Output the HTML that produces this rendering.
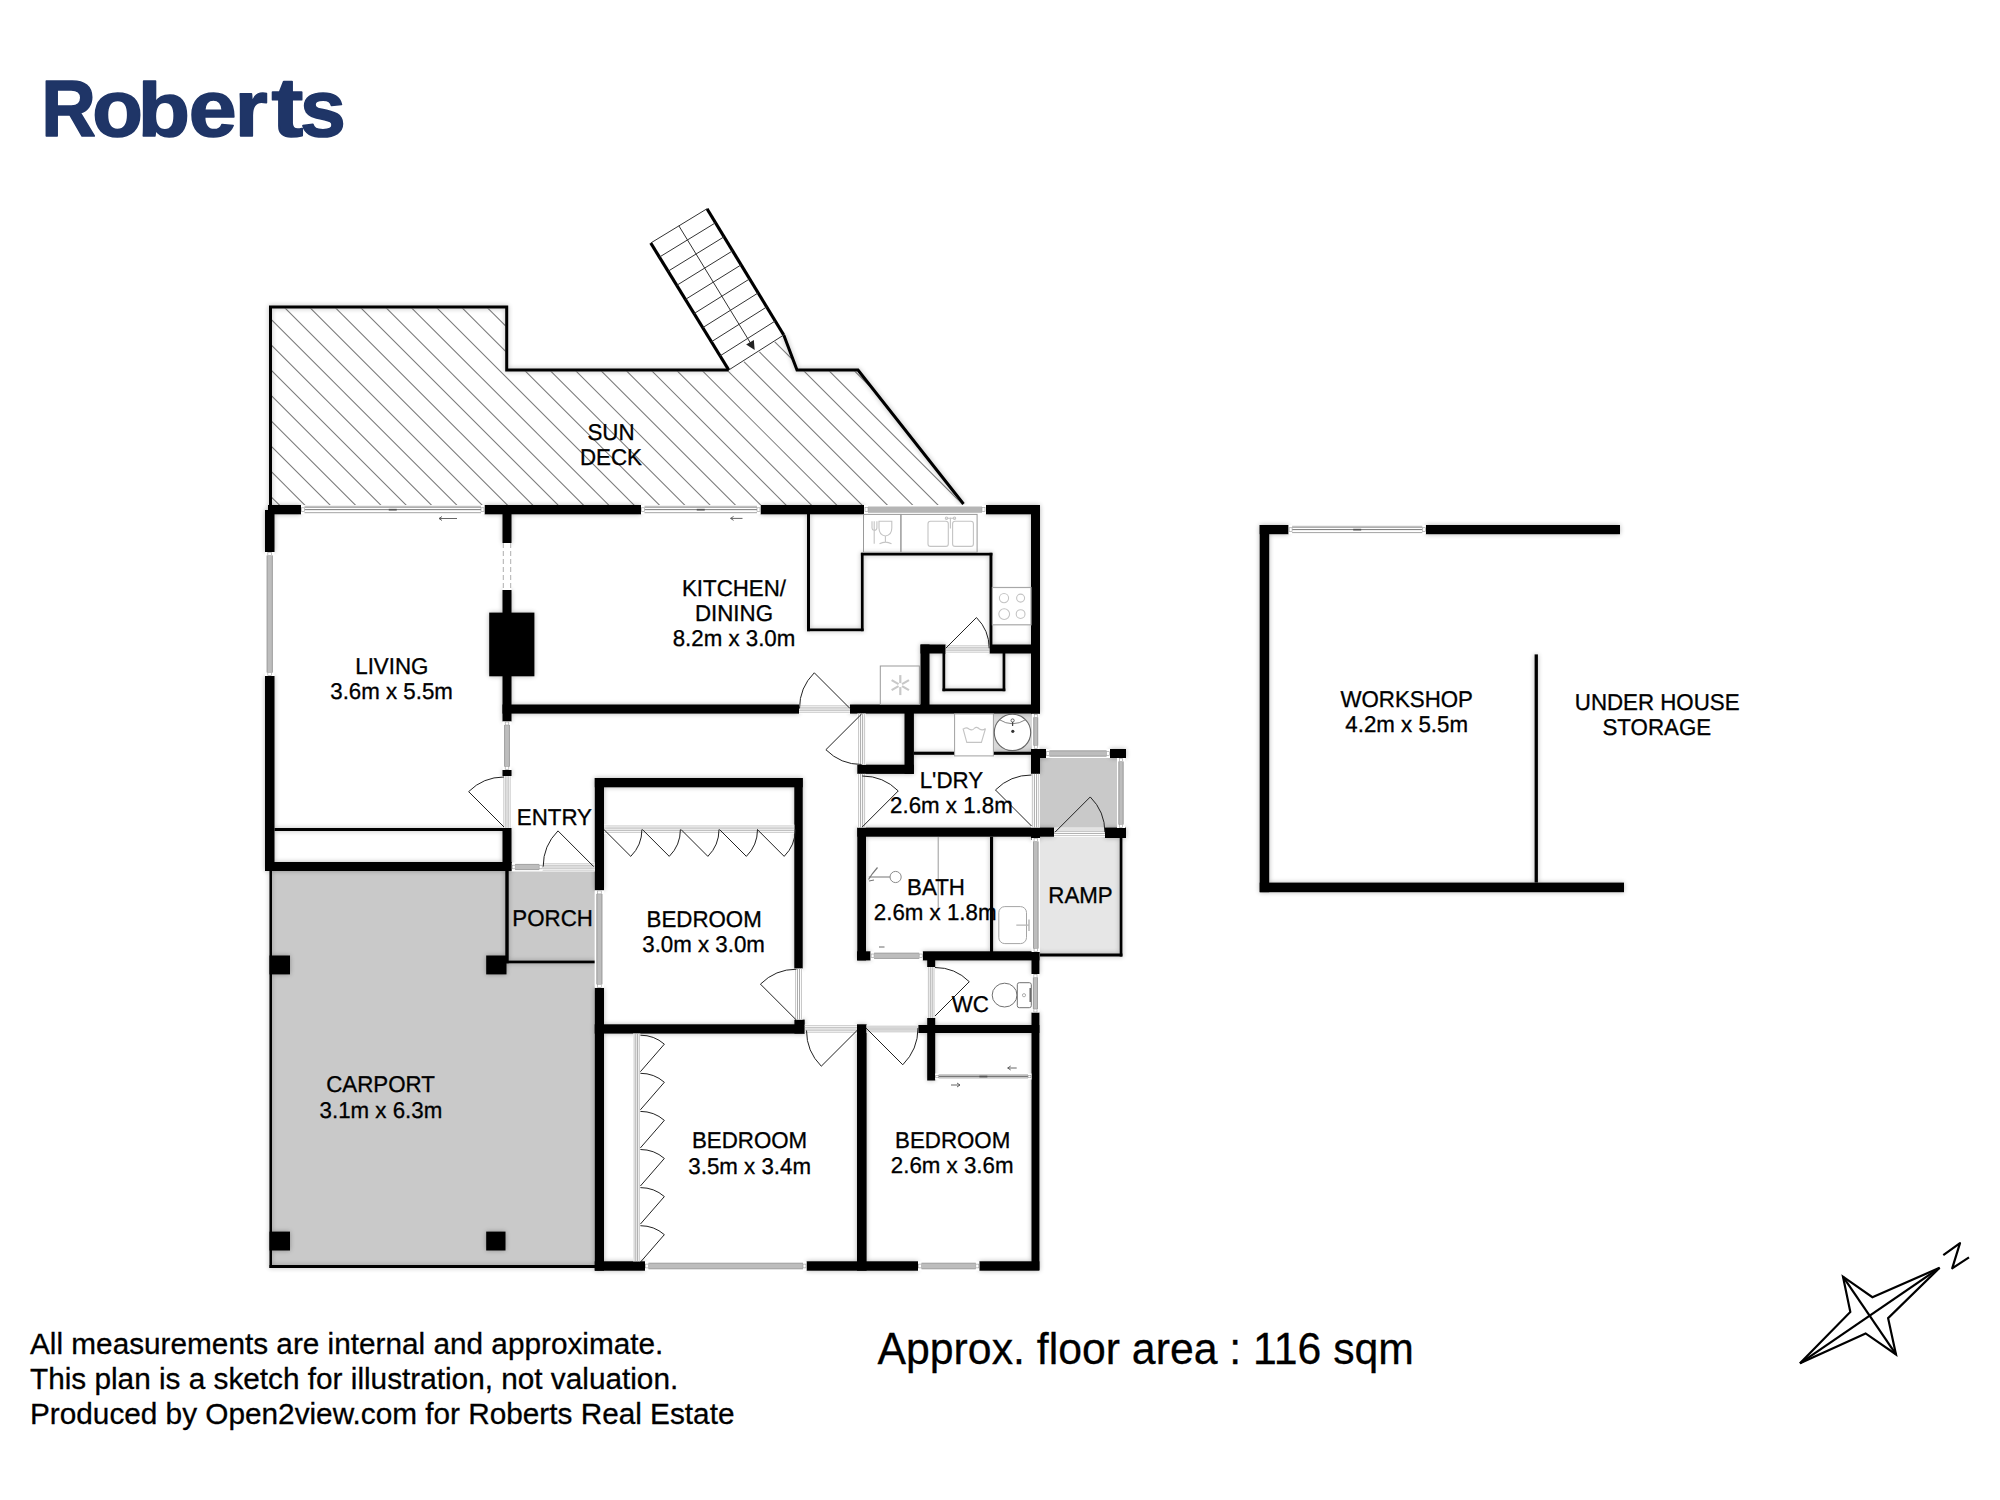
<!DOCTYPE html>
<html><head><meta charset="utf-8"><title>Floor plan</title>
<style>
html,body{margin:0;padding:0;background:#fff;}
body{width:2000px;height:1500px;overflow:hidden;position:relative;font-family:"Liberation Sans",sans-serif;}
svg{position:absolute;left:0;top:0;}
.lbl{font-family:"Liberation Sans",sans-serif;font-size:22.3px;fill:#000;stroke:#000;stroke-width:0.3px;text-anchor:middle;text-rendering:geometricPrecision;}
</style></head>
<body>
<svg width="2000" height="1500" viewBox="0 0 2000 1500">
<defs>
<clipPath id="deckclip"><polygon points="271.5,308.5 505.5,308.5 505.5,371.5 728.75,371.5 783.75,336 797,371.5 858,371.5 962,505 271.5,505"/></clipPath>
<filter id="sh" x="-5%" y="-5%" width="110%" height="110%"><feGaussianBlur in="SourceAlpha" stdDeviation="2.8"/><feComponentTransfer><feFuncA type="linear" slope="0.3"/></feComponentTransfer><feMerge><feMergeNode/><feMergeNode in="SourceGraphic"/></feMerge></filter>
</defs>

<!-- LOGO -->
<g font-family="Liberation Sans" font-weight="bold" font-size="80" fill="#1f3567" stroke="#1f3567" stroke-width="1.6" stroke-linejoin="round">
<text x="0" y="136.5" transform="translate(41.27,0) scale(0.9462,1)">R</text>
<text x="0" y="136.5" transform="translate(92.33,0) scale(1.0364,1)">o</text>
<text x="0" y="136.5" transform="translate(137.86,6.143) scale(1.0683,0.955)">b</text>
<text x="0" y="136.5" transform="translate(188.84,0) scale(1.0780,1)">e</text>
<text x="0" y="136.5" transform="translate(234.71,0) scale(1.0577,1)">r</text>
<text x="0" y="136.5" transform="translate(271.40,-6.825) scale(1.1923,1.05)">t</text>
<text x="0" y="136.5" transform="translate(299.94,0) scale(1.0300,1)">s</text>
</g>

<!-- SUN DECK hatch -->
<g clip-path="url(#deckclip)" stroke="#7a7a7a" stroke-width="1.05" id="hatch">
<line x1="260" y1="-730.20" x2="990" y2="-0.20"/>
<line x1="260" y1="-704.87" x2="990" y2="25.13"/>
<line x1="260" y1="-679.54" x2="990" y2="50.46"/>
<line x1="260" y1="-654.21" x2="990" y2="75.79"/>
<line x1="260" y1="-628.88" x2="990" y2="101.12"/>
<line x1="260" y1="-603.55" x2="990" y2="126.45"/>
<line x1="260" y1="-578.22" x2="990" y2="151.78"/>
<line x1="260" y1="-552.89" x2="990" y2="177.11"/>
<line x1="260" y1="-527.56" x2="990" y2="202.44"/>
<line x1="260" y1="-502.23" x2="990" y2="227.77"/>
<line x1="260" y1="-476.90" x2="990" y2="253.10"/>
<line x1="260" y1="-451.57" x2="990" y2="278.43"/>
<line x1="260" y1="-426.24" x2="990" y2="303.76"/>
<line x1="260" y1="-400.91" x2="990" y2="329.09"/>
<line x1="260" y1="-375.58" x2="990" y2="354.42"/>
<line x1="260" y1="-350.25" x2="990" y2="379.75"/>
<line x1="260" y1="-324.92" x2="990" y2="405.08"/>
<line x1="260" y1="-299.59" x2="990" y2="430.41"/>
<line x1="260" y1="-274.26" x2="990" y2="455.74"/>
<line x1="260" y1="-248.93" x2="990" y2="481.07"/>
<line x1="260" y1="-223.60" x2="990" y2="506.40"/>
<line x1="260" y1="-198.27" x2="990" y2="531.73"/>
<line x1="260" y1="-172.94" x2="990" y2="557.06"/>
<line x1="260" y1="-147.61" x2="990" y2="582.39"/>
<line x1="260" y1="-122.28" x2="990" y2="607.72"/>
<line x1="260" y1="-96.95" x2="990" y2="633.05"/>
<line x1="260" y1="-71.62" x2="990" y2="658.38"/>
<line x1="260" y1="-46.29" x2="990" y2="683.71"/>
<line x1="260" y1="-20.96" x2="990" y2="709.04"/>
<line x1="260" y1="4.37" x2="990" y2="734.37"/>
<line x1="260" y1="29.70" x2="990" y2="759.70"/>
<line x1="260" y1="55.03" x2="990" y2="785.03"/>
<line x1="260" y1="80.36" x2="990" y2="810.36"/>
<line x1="260" y1="105.69" x2="990" y2="835.69"/>
<line x1="260" y1="131.02" x2="990" y2="861.02"/>
<line x1="260" y1="156.35" x2="990" y2="886.35"/>
<line x1="260" y1="181.68" x2="990" y2="911.68"/>
<line x1="260" y1="207.01" x2="990" y2="937.01"/>
<line x1="260" y1="232.34" x2="990" y2="962.34"/>
<line x1="260" y1="257.67" x2="990" y2="987.67"/>
<line x1="260" y1="283.00" x2="990" y2="1013.00"/>
<line x1="260" y1="308.33" x2="990" y2="1038.33"/>
<line x1="260" y1="333.66" x2="990" y2="1063.66"/>
<line x1="260" y1="358.99" x2="990" y2="1088.99"/>
<line x1="260" y1="384.32" x2="990" y2="1114.32"/>
<line x1="260" y1="409.65" x2="990" y2="1139.65"/>
<line x1="260" y1="434.98" x2="990" y2="1164.98"/>
<line x1="260" y1="460.31" x2="990" y2="1190.31"/>
<line x1="260" y1="485.64" x2="990" y2="1215.64"/>
<line x1="260" y1="510.97" x2="990" y2="1240.97"/>
<line x1="260" y1="536.30" x2="990" y2="1266.30"/>
<line x1="260" y1="561.63" x2="990" y2="1291.63"/>
<line x1="260" y1="586.96" x2="990" y2="1316.96"/>
<line x1="260" y1="612.29" x2="990" y2="1342.29"/>
<line x1="260" y1="637.62" x2="990" y2="1367.62"/>
<line x1="260" y1="662.95" x2="990" y2="1392.95"/>
<line x1="260" y1="688.28" x2="990" y2="1418.28"/>
<line x1="260" y1="713.61" x2="990" y2="1443.61"/>
<line x1="260" y1="738.94" x2="990" y2="1468.94"/>
<line x1="260" y1="764.27" x2="990" y2="1494.27"/>
</g>

<!-- DECK outline -->
<g fill="none" stroke="#000" stroke-width="3" stroke-linejoin="miter" filter="url(#sh)">
<polyline points="270.5,505 270.5,307 506.7,307 506.7,370 728.75,370"/>
<polyline points="783.75,335 797,370 858,370 963.5,504"/>
</g>

<!-- STAIRS -->
<g id="stairs" stroke="#000" fill="none">
<line x1="650.75" y1="243" x2="728.75" y2="370" stroke-width="3.2"/>
<line x1="707" y1="208.75" x2="783.75" y2="335" stroke-width="3.2"/>
<line x1="650.75" y1="243.00" x2="707.00" y2="208.75" stroke-width="1.0" stroke="#333"/>
<line x1="659.42" y1="257.11" x2="715.53" y2="222.78" stroke-width="1.0" stroke="#333"/>
<line x1="668.08" y1="271.22" x2="724.06" y2="236.81" stroke-width="1.0" stroke="#333"/>
<line x1="676.75" y1="285.33" x2="732.58" y2="250.83" stroke-width="1.0" stroke="#333"/>
<line x1="685.42" y1="299.44" x2="741.11" y2="264.86" stroke-width="1.0" stroke="#333"/>
<line x1="694.08" y1="313.56" x2="749.64" y2="278.89" stroke-width="1.0" stroke="#333"/>
<line x1="702.75" y1="327.67" x2="758.17" y2="292.92" stroke-width="1.0" stroke="#333"/>
<line x1="711.42" y1="341.78" x2="766.69" y2="306.94" stroke-width="1.0" stroke="#333"/>
<line x1="720.08" y1="355.89" x2="775.22" y2="320.97" stroke-width="1.0" stroke="#333"/>
<line x1="728.75" y1="370.00" x2="783.75" y2="335.00" stroke-width="1.0" stroke="#333"/>
<line x1="678.88" y1="225.88" x2="750.51" y2="343.11" stroke-width="1" stroke="#333"/>
<polygon points="754.69,349.94 746.15,344.61 753.83,339.91" fill="#222" stroke="none"/>
</g>

<!-- WALLS -->
<g id="fills">
<rect x="269.50" y="871.00" width="325.30" height="397.00" fill="#c9c9c9" />
<rect x="1040.00" y="758.00" width="78.00" height="70.00" fill="#c9c9c9" />
<rect x="1040.00" y="836.70" width="80.00" height="117.30" fill="#e6e6e6" />
<rect x="993.40" y="713.90" width="38.60" height="37.80" fill="#d9d9d9" />
</g>
<g id="walls" fill="#000" filter="url(#sh)">
<rect x="268.00" y="505.00" width="33.00" height="9.30" fill="#000" />
<rect x="484.50" y="505.00" width="156.50" height="9.30" fill="#000" />
<rect x="760.50" y="505.00" width="103.50" height="9.30" fill="#000" />
<rect x="986.00" y="505.00" width="54.00" height="9.30" fill="#000" />
<rect x="265.00" y="510.00" width="9.50" height="42.00" fill="#000" />
<rect x="265.00" y="676.00" width="9.50" height="195.00" fill="#000" />
<rect x="265.00" y="862.00" width="247.00" height="9.00" fill="#000" />
<rect x="502.50" y="505.00" width="9.00" height="38.00" fill="#000" />
<rect x="502.50" y="590.00" width="9.00" height="131.50" fill="#000" />
<rect x="502.50" y="770.00" width="9.00" height="6.00" fill="#000" />
<rect x="502.50" y="828.00" width="9.00" height="43.00" fill="#000" />
<rect x="489.20" y="612.60" width="45.20" height="63.70" fill="#000" />
<rect x="502.50" y="704.50" width="296.50" height="9.10" fill="#000" />
<rect x="850.00" y="704.50" width="190.00" height="9.10" fill="#000" />
<rect x="1031.00" y="505.00" width="9.00" height="208.60" fill="#000" />
<rect x="920.50" y="644.50" width="25.20" height="9.00" fill="#000" />
<rect x="989.50" y="644.50" width="50.50" height="9.00" fill="#000" />
<rect x="920.50" y="644.50" width="9.00" height="68.50" fill="#000" />
<rect x="904.50" y="713.00" width="9.40" height="60.90" fill="#000" />
<rect x="857.30" y="764.70" width="56.60" height="9.20" fill="#000" />
<rect x="1031.00" y="749.00" width="16.80" height="9.00" fill="#000" />
<rect x="1031.00" y="749.00" width="9.00" height="24.90" fill="#000" />
<rect x="1110.00" y="749.00" width="16.00" height="9.00" fill="#000" />
<rect x="857.30" y="827.60" width="196.70" height="9.10" fill="#000" />
<rect x="1105.00" y="827.60" width="21.00" height="10.40" fill="#000" />
<rect x="857.30" y="827.60" width="8.70" height="132.80" fill="#000" />
<rect x="857.00" y="951.30" width="13.60" height="9.10" fill="#000" />
<rect x="922.70" y="951.30" width="116.70" height="9.10" fill="#000" />
<rect x="1031.00" y="827.60" width="9.00" height="12.40" fill="#000" />
<rect x="927.20" y="960.00" width="8.00" height="7.00" fill="#000" />
<rect x="927.20" y="1018.00" width="8.00" height="62.50" fill="#000" />
<rect x="1031.50" y="951.30" width="7.90" height="22.70" fill="#000" />
<rect x="1031.50" y="1012.50" width="7.90" height="257.50" fill="#000" />
<rect x="918.20" y="1025.00" width="121.20" height="8.00" fill="#000" />
<rect x="594.80" y="778.00" width="9.20" height="112.40" fill="#000" />
<rect x="594.80" y="987.80" width="9.20" height="282.90" fill="#000" />
<rect x="594.80" y="778.00" width="207.90" height="9.30" fill="#000" />
<rect x="794.30" y="778.00" width="8.40" height="190.60" fill="#000" />
<rect x="794.40" y="1019.60" width="10.30" height="14.00" fill="#000" />
<rect x="594.70" y="1024.30" width="210.00" height="9.30" fill="#000" />
<rect x="857.00" y="1024.30" width="9.60" height="246.40" fill="#000" />
<rect x="594.70" y="1261.30" width="50.30" height="9.40" fill="#000" />
<rect x="806.50" y="1261.30" width="111.50" height="9.40" fill="#000" />
<rect x="979.30" y="1261.30" width="60.10" height="9.40" fill="#000" />
<rect x="269.50" y="955.50" width="20.50" height="18.90" fill="#000" />
<rect x="486.20" y="955.50" width="20.30" height="18.90" fill="#000" />
<rect x="269.50" y="1231.60" width="20.50" height="18.90" fill="#000" />
<rect x="486.20" y="1231.60" width="19.30" height="18.90" fill="#000" />
<rect x="1259.70" y="525.00" width="28.90" height="9.20" fill="#000" />
<rect x="1425.80" y="525.00" width="194.20" height="9.20" fill="#000" />
<rect x="1259.70" y="525.00" width="9.50" height="367.20" fill="#000" />
<rect x="1259.70" y="882.60" width="364.30" height="9.60" fill="#000" />
<rect x="274.50" y="828.00" width="228.50" height="3.00" fill="#000" />
<rect x="807.00" y="514.00" width="3.00" height="117.20" fill="#000" />
<rect x="807.00" y="628.50" width="56.60" height="2.70" fill="#000" />
<rect x="860.90" y="552.80" width="2.70" height="78.40" fill="#000" />
<rect x="860.90" y="552.80" width="131.50" height="2.70" fill="#000" />
<rect x="989.50" y="552.80" width="2.90" height="100.20" fill="#000" />
<rect x="942.50" y="653.00" width="2.70" height="38.20" fill="#000" />
<rect x="942.50" y="688.50" width="62.80" height="2.70" fill="#000" />
<rect x="1002.60" y="653.00" width="2.70" height="38.20" fill="#000" />
<rect x="913.90" y="751.70" width="40.70" height="3.10" fill="#000" />
<rect x="993.40" y="751.70" width="37.60" height="3.10" fill="#000" />
<rect x="990.00" y="836.70" width="3.10" height="115.30" fill="#000" />
<rect x="1119.70" y="836.70" width="2.70" height="119.80" fill="#000" />
<rect x="1040.00" y="953.50" width="82.40" height="3.00" fill="#000" />
<rect x="505.30" y="871.00" width="3.40" height="92.30" fill="#000" />
<rect x="506.00" y="960.60" width="88.80" height="2.70" fill="#000" />
<rect x="269.50" y="871.00" width="2.50" height="397.00" fill="#000" />
<rect x="269.50" y="1265.00" width="325.50" height="3.00" fill="#000" />
<rect x="1534.60" y="654.40" width="3.30" height="228.20" fill="#000" />
</g>

<g id="details">
<rect x="301.00" y="505.00" width="183.50" height="9.30" fill="#fff" />
<line x1="304.50" y1="506.30" x2="481.00" y2="506.30" stroke="#b0b0b0" stroke-width="0.9"/>
<line x1="304.50" y1="507.40" x2="481.00" y2="507.40" stroke="#9a9a9a" stroke-width="0.9"/>
<line x1="304.50" y1="509.65" x2="481.00" y2="509.65" stroke="#777" stroke-width="1"/>
<line x1="304.50" y1="512.70" x2="481.00" y2="512.70" stroke="#999" stroke-width="0.9"/>
<rect x="388.75" y="508.85" width="8.00" height="1.70" fill="#555" />
<rect x="301.50" y="507.79" width="3" height="3.72" fill="#fff" stroke="#999" stroke-width="0.6"/>
<rect x="481.00" y="507.79" width="3" height="3.72" fill="#fff" stroke="#999" stroke-width="0.6"/>
<rect x="641.00" y="505.00" width="119.50" height="9.30" fill="#fff" />
<line x1="644.50" y1="506.30" x2="757.00" y2="506.30" stroke="#b0b0b0" stroke-width="0.9"/>
<line x1="644.50" y1="507.40" x2="757.00" y2="507.40" stroke="#9a9a9a" stroke-width="0.9"/>
<line x1="644.50" y1="509.65" x2="757.00" y2="509.65" stroke="#777" stroke-width="1"/>
<line x1="644.50" y1="512.70" x2="757.00" y2="512.70" stroke="#999" stroke-width="0.9"/>
<rect x="696.75" y="508.85" width="8.00" height="1.70" fill="#555" />
<rect x="641.50" y="507.79" width="3" height="3.72" fill="#fff" stroke="#999" stroke-width="0.6"/>
<rect x="757.00" y="507.79" width="3" height="3.72" fill="#fff" stroke="#999" stroke-width="0.6"/>
<rect x="265.00" y="552.00" width="9.50" height="124.00" fill="#fff" />
<rect x="266.71" y="555.50" width="6.08" height="117.00" fill="#bdbdbd" />
<line x1="267.21" y1="555.50" x2="267.21" y2="672.50" stroke="#a0a0a0" stroke-width="1"/>
<line x1="272.29" y1="555.50" x2="272.29" y2="672.50" stroke="#a0a0a0" stroke-width="1"/>
<rect x="267.85" y="552.50" width="3.80" height="3" fill="#fff" stroke="#999" stroke-width="0.6"/>
<rect x="267.85" y="672.50" width="3.80" height="3" fill="#fff" stroke="#999" stroke-width="0.6"/>
<rect x="502.50" y="721.50" width="9.00" height="48.50" fill="#fff" />
<rect x="504.12" y="725.00" width="5.76" height="41.50" fill="#bdbdbd" />
<line x1="504.62" y1="725.00" x2="504.62" y2="766.50" stroke="#a0a0a0" stroke-width="1"/>
<line x1="509.38" y1="725.00" x2="509.38" y2="766.50" stroke="#a0a0a0" stroke-width="1"/>
<rect x="505.20" y="722.00" width="3.60" height="3" fill="#fff" stroke="#999" stroke-width="0.6"/>
<rect x="505.20" y="766.50" width="3.60" height="3" fill="#fff" stroke="#999" stroke-width="0.6"/>
<rect x="594.80" y="890.40" width="9.20" height="97.40" fill="#fff" />
<rect x="596.46" y="893.90" width="5.89" height="90.40" fill="#bdbdbd" />
<line x1="596.96" y1="893.90" x2="596.96" y2="984.30" stroke="#a0a0a0" stroke-width="1"/>
<line x1="601.84" y1="893.90" x2="601.84" y2="984.30" stroke="#a0a0a0" stroke-width="1"/>
<rect x="597.56" y="890.90" width="3.68" height="3" fill="#fff" stroke="#999" stroke-width="0.6"/>
<rect x="597.56" y="984.30" width="3.68" height="3" fill="#fff" stroke="#999" stroke-width="0.6"/>
<rect x="645.00" y="1261.30" width="161.50" height="9.40" fill="#fff" />
<rect x="648.50" y="1262.80" width="154.50" height="6.39" fill="#bdbdbd" />
<line x1="648.50" y1="1263.30" x2="803.00" y2="1263.30" stroke="#a5a5a5" stroke-width="1"/>
<line x1="648.50" y1="1268.70" x2="803.00" y2="1268.70" stroke="#a5a5a5" stroke-width="1"/>
<rect x="645.50" y="1264.12" width="3" height="3.76" fill="#fff" stroke="#999" stroke-width="0.6"/>
<rect x="803.00" y="1264.12" width="3" height="3.76" fill="#fff" stroke="#999" stroke-width="0.6"/>
<rect x="918.00" y="1261.30" width="61.30" height="9.40" fill="#fff" />
<rect x="921.50" y="1262.80" width="54.30" height="6.39" fill="#bdbdbd" />
<line x1="921.50" y1="1263.30" x2="975.80" y2="1263.30" stroke="#a5a5a5" stroke-width="1"/>
<line x1="921.50" y1="1268.70" x2="975.80" y2="1268.70" stroke="#a5a5a5" stroke-width="1"/>
<rect x="918.50" y="1264.12" width="3" height="3.76" fill="#fff" stroke="#999" stroke-width="0.6"/>
<rect x="975.80" y="1264.12" width="3" height="3.76" fill="#fff" stroke="#999" stroke-width="0.6"/>
<rect x="870.60" y="951.30" width="52.10" height="9.10" fill="#fff" />
<rect x="874.10" y="952.76" width="45.10" height="6.19" fill="#bdbdbd" />
<line x1="874.10" y1="953.26" x2="919.20" y2="953.26" stroke="#a5a5a5" stroke-width="1"/>
<line x1="874.10" y1="958.44" x2="919.20" y2="958.44" stroke="#a5a5a5" stroke-width="1"/>
<rect x="871.10" y="954.03" width="3" height="3.64" fill="#fff" stroke="#999" stroke-width="0.6"/>
<rect x="919.20" y="954.03" width="3" height="3.64" fill="#fff" stroke="#999" stroke-width="0.6"/>
<rect x="1031.50" y="974.00" width="7.90" height="38.50" fill="#fff" />
<rect x="1032.92" y="977.50" width="5.06" height="31.50" fill="#bdbdbd" />
<line x1="1033.42" y1="977.50" x2="1033.42" y2="1009.00" stroke="#a0a0a0" stroke-width="1"/>
<line x1="1037.48" y1="977.50" x2="1037.48" y2="1009.00" stroke="#a0a0a0" stroke-width="1"/>
<rect x="1033.87" y="974.50" width="3.16" height="3" fill="#fff" stroke="#999" stroke-width="0.6"/>
<rect x="1033.87" y="1009.00" width="3.16" height="3" fill="#fff" stroke="#999" stroke-width="0.6"/>
<rect x="1032.00" y="713.90" width="7.50" height="35.10" fill="#fff" />
<rect x="1033.35" y="717.40" width="4.80" height="28.10" fill="#bdbdbd" />
<line x1="1033.85" y1="717.40" x2="1033.85" y2="745.50" stroke="#a0a0a0" stroke-width="1"/>
<line x1="1037.65" y1="717.40" x2="1037.65" y2="745.50" stroke="#a0a0a0" stroke-width="1"/>
<rect x="1034.25" y="714.40" width="3.00" height="3" fill="#fff" stroke="#999" stroke-width="0.6"/>
<rect x="1034.25" y="745.50" width="3.00" height="3" fill="#fff" stroke="#999" stroke-width="0.6"/>
<rect x="1046.00" y="749.00" width="64.00" height="9.00" fill="#fff" />
<rect x="1049.50" y="750.44" width="57.00" height="6.12" fill="#bdbdbd" />
<line x1="1049.50" y1="750.94" x2="1106.50" y2="750.94" stroke="#a5a5a5" stroke-width="1"/>
<line x1="1049.50" y1="756.06" x2="1106.50" y2="756.06" stroke="#a5a5a5" stroke-width="1"/>
<rect x="1046.50" y="751.70" width="3" height="3.60" fill="#fff" stroke="#999" stroke-width="0.6"/>
<rect x="1106.50" y="751.70" width="3" height="3.60" fill="#fff" stroke="#999" stroke-width="0.6"/>
<rect x="1117.00" y="758.00" width="8.00" height="70.00" fill="#fff" />
<rect x="1118.44" y="761.50" width="5.12" height="63.00" fill="#bdbdbd" />
<line x1="1118.94" y1="761.50" x2="1118.94" y2="824.50" stroke="#a0a0a0" stroke-width="1"/>
<line x1="1123.06" y1="761.50" x2="1123.06" y2="824.50" stroke="#a0a0a0" stroke-width="1"/>
<rect x="1119.40" y="758.50" width="3.20" height="3" fill="#fff" stroke="#999" stroke-width="0.6"/>
<rect x="1119.40" y="824.50" width="3.20" height="3" fill="#fff" stroke="#999" stroke-width="0.6"/>
<rect x="1031.50" y="838.00" width="8.50" height="114.00" fill="#fff" />
<rect x="1033.03" y="841.50" width="5.44" height="107.00" fill="#bdbdbd" />
<line x1="1033.53" y1="841.50" x2="1033.53" y2="948.50" stroke="#a0a0a0" stroke-width="1"/>
<line x1="1037.97" y1="841.50" x2="1037.97" y2="948.50" stroke="#a0a0a0" stroke-width="1"/>
<rect x="1034.05" y="838.50" width="3.40" height="3" fill="#fff" stroke="#999" stroke-width="0.6"/>
<rect x="1034.05" y="948.50" width="3.40" height="3" fill="#fff" stroke="#999" stroke-width="0.6"/>
<rect x="1288.60" y="525.00" width="137.20" height="9.20" fill="#fff" />
<line x1="1292.10" y1="526.30" x2="1422.30" y2="526.30" stroke="#b0b0b0" stroke-width="0.9"/>
<line x1="1292.10" y1="527.40" x2="1422.30" y2="527.40" stroke="#9a9a9a" stroke-width="0.9"/>
<line x1="1292.10" y1="529.60" x2="1422.30" y2="529.60" stroke="#777" stroke-width="1"/>
<line x1="1292.10" y1="532.60" x2="1422.30" y2="532.60" stroke="#999" stroke-width="0.9"/>
<rect x="1353.20" y="528.80" width="8.00" height="1.70" fill="#555" />
<rect x="1289.10" y="527.76" width="3" height="3.68" fill="#fff" stroke="#999" stroke-width="0.6"/>
<rect x="1422.30" y="527.76" width="3" height="3.68" fill="#fff" stroke="#999" stroke-width="0.6"/>
<rect x="511.70" y="862.50" width="31.00" height="9.00" fill="#fff" />
<rect x="515.20" y="863.94" width="24.00" height="6.12" fill="#bdbdbd" />
<line x1="515.20" y1="864.44" x2="539.20" y2="864.44" stroke="#a5a5a5" stroke-width="1"/>
<line x1="515.20" y1="869.56" x2="539.20" y2="869.56" stroke="#a5a5a5" stroke-width="1"/>
<rect x="512.20" y="865.20" width="3" height="3.60" fill="#fff" stroke="#999" stroke-width="0.6"/>
<rect x="539.20" y="865.20" width="3" height="3.60" fill="#fff" stroke="#999" stroke-width="0.6"/>
<rect x="935.20" y="1073.50" width="96.30" height="6.00" fill="#fff" />
<line x1="938.70" y1="1074.80" x2="1028.00" y2="1074.80" stroke="#b0b0b0" stroke-width="0.9"/>
<line x1="938.70" y1="1075.90" x2="1028.00" y2="1075.90" stroke="#9a9a9a" stroke-width="0.9"/>
<line x1="938.70" y1="1076.50" x2="1028.00" y2="1076.50" stroke="#777" stroke-width="1"/>
<line x1="938.70" y1="1077.90" x2="1028.00" y2="1077.90" stroke="#999" stroke-width="0.9"/>
<rect x="979.35" y="1075.70" width="8.00" height="1.70" fill="#555" />
<rect x="935.70" y="1075.30" width="3" height="2.40" fill="#fff" stroke="#999" stroke-width="0.6"/>
<rect x="1028.00" y="1075.30" width="3" height="2.40" fill="#fff" stroke="#999" stroke-width="0.6"/>
<rect x="864.00" y="505.00" width="122.00" height="9.30" fill="#fff" />
<rect x="868.00" y="506.50" width="114.00" height="6.30" fill="#b5b5b5" />
<rect x="865" y="507.5" width="3" height="4" fill="#fff" stroke="#999" stroke-width="0.6"/>
<rect x="982" y="507.5" width="3" height="4" fill="#fff" stroke="#999" stroke-width="0.6"/>
<rect x="502.50" y="543.00" width="9.00" height="47.00" fill="#fff" />
<line x1="503.3" y1="543" x2="503.3" y2="590" stroke="#999" stroke-width="0.8" stroke-dasharray="5,3"/>
<line x1="510.7" y1="543" x2="510.7" y2="590" stroke="#999" stroke-width="0.8" stroke-dasharray="5,3"/>
<rect x="799.00" y="704.50" width="51.00" height="9.10" fill="#fff" />
<line x1="799.00" y1="705.87" x2="850.00" y2="705.87" stroke="#b8b8b8" stroke-width="0.8"/>
<line x1="799.00" y1="707.96" x2="850.00" y2="707.96" stroke="#959595" stroke-width="0.8"/>
<line x1="799.00" y1="710.14" x2="850.00" y2="710.14" stroke="#959595" stroke-width="0.8"/>
<line x1="799.00" y1="712.24" x2="850.00" y2="712.24" stroke="#b8b8b8" stroke-width="0.8"/>
<rect x="857.30" y="713.60" width="8.60" height="51.10" fill="#fff" />
<line x1="858.59" y1="713.60" x2="858.59" y2="764.70" stroke="#b8b8b8" stroke-width="0.8"/>
<line x1="860.57" y1="713.60" x2="860.57" y2="764.70" stroke="#959595" stroke-width="0.8"/>
<line x1="862.63" y1="713.60" x2="862.63" y2="764.70" stroke="#959595" stroke-width="0.8"/>
<line x1="864.61" y1="713.60" x2="864.61" y2="764.70" stroke="#b8b8b8" stroke-width="0.8"/>
<rect x="857.30" y="773.90" width="8.60" height="53.70" fill="#fff" />
<line x1="858.59" y1="773.90" x2="858.59" y2="827.60" stroke="#b8b8b8" stroke-width="0.8"/>
<line x1="860.57" y1="773.90" x2="860.57" y2="827.60" stroke="#959595" stroke-width="0.8"/>
<line x1="862.63" y1="773.90" x2="862.63" y2="827.60" stroke="#959595" stroke-width="0.8"/>
<line x1="864.61" y1="773.90" x2="864.61" y2="827.60" stroke="#b8b8b8" stroke-width="0.8"/>
<rect x="1031.00" y="773.90" width="9.00" height="53.70" fill="#fff" />
<line x1="1032.35" y1="773.90" x2="1032.35" y2="827.60" stroke="#b8b8b8" stroke-width="0.8"/>
<line x1="1034.42" y1="773.90" x2="1034.42" y2="827.60" stroke="#959595" stroke-width="0.8"/>
<line x1="1036.58" y1="773.90" x2="1036.58" y2="827.60" stroke="#959595" stroke-width="0.8"/>
<line x1="1038.65" y1="773.90" x2="1038.65" y2="827.60" stroke="#b8b8b8" stroke-width="0.8"/>
<rect x="945.70" y="644.50" width="43.80" height="9.00" fill="#fff" />
<line x1="945.70" y1="645.85" x2="989.50" y2="645.85" stroke="#b8b8b8" stroke-width="0.8"/>
<line x1="945.70" y1="647.92" x2="989.50" y2="647.92" stroke="#959595" stroke-width="0.8"/>
<line x1="945.70" y1="650.08" x2="989.50" y2="650.08" stroke="#959595" stroke-width="0.8"/>
<line x1="945.70" y1="652.15" x2="989.50" y2="652.15" stroke="#b8b8b8" stroke-width="0.8"/>
<rect x="502.50" y="776.00" width="9.00" height="52.00" fill="#fff" />
<line x1="503.85" y1="776.00" x2="503.85" y2="828.00" stroke="#b8b8b8" stroke-width="0.8"/>
<line x1="505.92" y1="776.00" x2="505.92" y2="828.00" stroke="#959595" stroke-width="0.8"/>
<line x1="508.08" y1="776.00" x2="508.08" y2="828.00" stroke="#959595" stroke-width="0.8"/>
<line x1="510.15" y1="776.00" x2="510.15" y2="828.00" stroke="#b8b8b8" stroke-width="0.8"/>
<rect x="542.70" y="862.50" width="52.10" height="9.00" fill="#fff" />
<line x1="542.70" y1="863.85" x2="594.80" y2="863.85" stroke="#b8b8b8" stroke-width="0.8"/>
<line x1="542.70" y1="865.92" x2="594.80" y2="865.92" stroke="#959595" stroke-width="0.8"/>
<line x1="542.70" y1="868.08" x2="594.80" y2="868.08" stroke="#959595" stroke-width="0.8"/>
<line x1="542.70" y1="870.15" x2="594.80" y2="870.15" stroke="#b8b8b8" stroke-width="0.8"/>
<rect x="794.30" y="968.60" width="8.40" height="51.00" fill="#fff" />
<line x1="795.56" y1="968.60" x2="795.56" y2="1019.60" stroke="#b8b8b8" stroke-width="0.8"/>
<line x1="797.49" y1="968.60" x2="797.49" y2="1019.60" stroke="#959595" stroke-width="0.8"/>
<line x1="799.51" y1="968.60" x2="799.51" y2="1019.60" stroke="#959595" stroke-width="0.8"/>
<line x1="801.44" y1="968.60" x2="801.44" y2="1019.60" stroke="#b8b8b8" stroke-width="0.8"/>
<rect x="804.70" y="1024.30" width="52.30" height="9.30" fill="#fff" />
<line x1="804.70" y1="1025.69" x2="857.00" y2="1025.69" stroke="#b8b8b8" stroke-width="0.8"/>
<line x1="804.70" y1="1027.83" x2="857.00" y2="1027.83" stroke="#959595" stroke-width="0.8"/>
<line x1="804.70" y1="1030.07" x2="857.00" y2="1030.07" stroke="#959595" stroke-width="0.8"/>
<line x1="804.70" y1="1032.20" x2="857.00" y2="1032.20" stroke="#b8b8b8" stroke-width="0.8"/>
<rect x="866.60" y="1025.00" width="51.60" height="8.00" fill="#fff" />
<line x1="866.60" y1="1026.20" x2="918.20" y2="1026.20" stroke="#b8b8b8" stroke-width="0.8"/>
<line x1="866.60" y1="1028.04" x2="918.20" y2="1028.04" stroke="#959595" stroke-width="0.8"/>
<line x1="866.60" y1="1029.96" x2="918.20" y2="1029.96" stroke="#959595" stroke-width="0.8"/>
<line x1="866.60" y1="1031.80" x2="918.20" y2="1031.80" stroke="#b8b8b8" stroke-width="0.8"/>
<rect x="927.20" y="967.00" width="8.00" height="51.00" fill="#fff" />
<line x1="928.40" y1="967.00" x2="928.40" y2="1018.00" stroke="#b8b8b8" stroke-width="0.8"/>
<line x1="930.24" y1="967.00" x2="930.24" y2="1018.00" stroke="#959595" stroke-width="0.8"/>
<line x1="932.16" y1="967.00" x2="932.16" y2="1018.00" stroke="#959595" stroke-width="0.8"/>
<line x1="934.00" y1="967.00" x2="934.00" y2="1018.00" stroke="#b8b8b8" stroke-width="0.8"/>
<rect x="1054.00" y="827.60" width="51.00" height="9.40" fill="#fff" />
<line x1="1054.00" y1="829.01" x2="1105.00" y2="829.01" stroke="#b8b8b8" stroke-width="0.8"/>
<line x1="1054.00" y1="831.17" x2="1105.00" y2="831.17" stroke="#959595" stroke-width="0.8"/>
<line x1="1054.00" y1="833.43" x2="1105.00" y2="833.43" stroke="#959595" stroke-width="0.8"/>
<line x1="1054.00" y1="835.59" x2="1105.00" y2="835.59" stroke="#b8b8b8" stroke-width="0.8"/>
<rect x="604.00" y="824.60" width="190.30" height="9.10" fill="#fff" />
<line x1="604.00" y1="825.97" x2="794.30" y2="825.97" stroke="#b8b8b8" stroke-width="0.8"/>
<line x1="604.00" y1="828.06" x2="794.30" y2="828.06" stroke="#959595" stroke-width="0.8"/>
<line x1="604.00" y1="830.24" x2="794.30" y2="830.24" stroke="#959595" stroke-width="0.8"/>
<line x1="604.00" y1="832.34" x2="794.30" y2="832.34" stroke="#b8b8b8" stroke-width="0.8"/>
<rect x="633.00" y="1033.60" width="7.40" height="227.70" fill="#fff" />
<line x1="634.11" y1="1033.60" x2="634.11" y2="1261.30" stroke="#b8b8b8" stroke-width="0.8"/>
<line x1="635.81" y1="1033.60" x2="635.81" y2="1261.30" stroke="#959595" stroke-width="0.8"/>
<line x1="637.59" y1="1033.60" x2="637.59" y2="1261.30" stroke="#959595" stroke-width="0.8"/>
<line x1="639.29" y1="1033.60" x2="639.29" y2="1261.30" stroke="#b8b8b8" stroke-width="0.8"/>
<path d="M850.00,708.50 L814.29,672.79 A50.50,50.50 0 0 0 799.50,708.50" fill="none" stroke="#222" stroke-width="1.0"/>
<path d="M861.60,714.00 L825.89,749.71 A50.50,50.50 0 0 0 861.60,764.50" fill="none" stroke="#222" stroke-width="1.0"/>
<path d="M862.20,827.00 L898.26,790.94 A51.00,51.00 0 0 0 862.20,776.00" fill="none" stroke="#222" stroke-width="1.0"/>
<path d="M1031.50,826.00 L995.44,789.94 A51.00,51.00 0 0 1 1031.50,775.00" fill="none" stroke="#222" stroke-width="1.0"/>
<path d="M1054.90,832.30 L1090.26,796.94 A50.00,50.00 0 0 1 1104.90,832.30" fill="none" stroke="#222" stroke-width="1.0"/>
<path d="M945.70,648.30 L976.46,617.54 A43.50,43.50 0 0 1 989.20,648.30" fill="none" stroke="#222" stroke-width="1.0"/>
<path d="M504.00,827.00 L468.64,791.64 A50.00,50.00 0 0 1 504.00,777.00" fill="none" stroke="#222" stroke-width="1.0"/>
<path d="M593.70,866.60 L557.99,830.89 A50.50,50.50 0 0 0 543.20,866.60" fill="none" stroke="#222" stroke-width="1.0"/>
<path d="M796.50,1020.20 L760.44,984.14 A51.00,51.00 0 0 1 796.50,969.20" fill="none" stroke="#222" stroke-width="1.0"/>
<path d="M857.00,1030.50 L821.29,1066.21 A50.50,50.50 0 0 1 806.50,1030.50" fill="none" stroke="#222" stroke-width="1.0"/>
<path d="M866.00,1028.00 L902.77,1064.77 A52.00,52.00 0 0 0 918.00,1028.00" fill="none" stroke="#222" stroke-width="1.0"/>
<path d="M935.00,1016.00 L969.29,981.71 A48.50,48.50 0 0 0 935.00,967.50" fill="none" stroke="#222" stroke-width="1.0"/>
<path d="M603.90,829.50 L630.77,856.37 A38.00,38.00 0 0 0 641.90,829.50" fill="none" stroke="#222" stroke-width="1.0"/>
<path d="M642.40,829.50 L669.27,856.37 A38.00,38.00 0 0 0 680.40,829.50" fill="none" stroke="#222" stroke-width="1.0"/>
<path d="M681.00,829.50 L707.87,856.37 A38.00,38.00 0 0 0 719.00,829.50" fill="none" stroke="#222" stroke-width="1.0"/>
<path d="M719.50,829.50 L746.37,856.37 A38.00,38.00 0 0 0 757.50,829.50" fill="none" stroke="#222" stroke-width="1.0"/>
<path d="M757.30,829.50 L784.17,856.37 A38.00,38.00 0 0 0 795.30,829.50" fill="none" stroke="#222" stroke-width="1.0"/>
<path d="M640.40,1071.70 L664.35,1044.15 A36.50,36.50 0 0 0 640.40,1035.20" fill="none" stroke="#222" stroke-width="1.0"/>
<path d="M640.40,1109.80 L664.35,1082.25 A36.50,36.50 0 0 0 640.40,1073.30" fill="none" stroke="#222" stroke-width="1.0"/>
<path d="M640.40,1147.90 L664.35,1120.35 A36.50,36.50 0 0 0 640.40,1111.40" fill="none" stroke="#222" stroke-width="1.0"/>
<path d="M640.40,1186.00 L664.35,1158.45 A36.50,36.50 0 0 0 640.40,1149.50" fill="none" stroke="#222" stroke-width="1.0"/>
<path d="M640.40,1224.10 L664.35,1196.55 A36.50,36.50 0 0 0 640.40,1187.60" fill="none" stroke="#222" stroke-width="1.0"/>
<path d="M640.40,1262.20 L664.35,1234.65 A36.50,36.50 0 0 0 640.40,1225.70" fill="none" stroke="#222" stroke-width="1.0"/>
</g>
<g id="fixtures">
<rect x="863.5" y="514.4" width="37.4" height="37.9" fill="none" stroke="#9a9a9a" stroke-width="1"/>
<path d="M872,521.3 V528 Q872,530 874.2,530.5 Q876.9,530 876.9,528 V521.3 M874.2,521.3 V543.7" fill="none" stroke="#c4c4c4" stroke-width="1.1"/>
<path d="M879,521.3 H891.8 V528 Q891.8,535 885.4,536 Q879,535 879,528 Z M885.4,536 V542 M879.5,543.8 Q885.4,540.5 891.5,543.8" fill="none" stroke="#c4c4c4" stroke-width="1.1"/>
<rect x="900.9" y="514.4" width="76.2" height="37.9" fill="none" stroke="#9a9a9a" stroke-width="1"/>
<rect x="928" y="521.3" width="20.3" height="25.1" rx="2.5" fill="none" stroke="#c4c4c4" stroke-width="1.1"/>
<rect x="952.6" y="521.3" width="20.8" height="25.1" rx="2.5" fill="none" stroke="#c4c4c4" stroke-width="1.1"/>
<path d="M950.4,517.5 V528.5 M946.5,518.2 H954.5" fill="none" stroke="#c4c4c4" stroke-width="1.1"/>
<circle cx="946.5" cy="518.2" r="1.2" fill="none" stroke="#c4c4c4" stroke-width="1.1"/><circle cx="954.5" cy="518.2" r="1.2" fill="none" stroke="#c4c4c4" stroke-width="1.1"/>
<rect x="992.4" y="587.5" width="38.6" height="37.3" fill="#fff" stroke="#a8a8a8" stroke-width="1.2"/>
<circle cx="1004" cy="598.1" r="4.6" fill="none" stroke="#c4c4c4" stroke-width="1.1"/>
<circle cx="1020.6" cy="598.1" r="4.0" fill="none" stroke="#c4c4c4" stroke-width="1.1"/>
<circle cx="1004.2" cy="614.1" r="5.4" fill="none" stroke="#c4c4c4" stroke-width="1.1"/>
<circle cx="1020.6" cy="614.1" r="4.4" fill="none" stroke="#c4c4c4" stroke-width="1.1"/>
<rect x="880.3" y="666" width="39.1" height="38.5" fill="none" stroke="#9a9a9a" stroke-width="1"/>
<line x1="900.30" y1="687.10" x2="900.30" y2="695.10" stroke="#c8c8c8" stroke-width="2.2"/>
<line x1="898.57" y1="686.10" x2="891.64" y2="690.10" stroke="#c8c8c8" stroke-width="2.2"/>
<line x1="898.57" y1="684.10" x2="891.64" y2="680.10" stroke="#c8c8c8" stroke-width="2.2"/>
<line x1="900.30" y1="683.10" x2="900.30" y2="675.10" stroke="#c8c8c8" stroke-width="2.2"/>
<line x1="902.03" y1="684.10" x2="908.96" y2="680.10" stroke="#c8c8c8" stroke-width="2.2"/>
<line x1="902.03" y1="686.10" x2="908.96" y2="690.10" stroke="#c8c8c8" stroke-width="2.2"/>
<rect x="954.6" y="713.9" width="38.8" height="42" fill="#fff" stroke="#a0a0a0" stroke-width="1"/>
<path d="M963,728.5 L966.8,742.4 H981.4 L985.5,728.5 M963,729.5 Q966,726.5 969,729 Q972,731 974.2,728.5 Q976.5,726 979.5,729 Q982.5,731 985.5,728.5" fill="none" stroke="#c4c4c4" stroke-width="1.1"/>
<circle cx="1012.5" cy="732.4" r="18.2" fill="#fff" stroke="#666" stroke-width="1.1"/>
<path d="M999,719.5 Q1012.5,728 1026,719.5" fill="none" stroke="#777" stroke-width="0.9"/>
<circle cx="1012.6" cy="720.5" r="1.6" fill="#fff" stroke="#555" stroke-width="0.9"/>
<line x1="1012.6" y1="722" x2="1012.6" y2="726" stroke="#444" stroke-width="1.2"/>
<circle cx="1012.8" cy="731.3" r="1.6" fill="#333"/>
<line x1="938.2" y1="837" x2="938.2" y2="907.5" stroke="#9a9a9a" stroke-width="1"/>
<line x1="868.8" y1="877" x2="895.6" y2="877" stroke="#8a8a8a" stroke-width="1.2"/>
<circle cx="895.6" cy="877" r="5.6" fill="#fff" stroke="#8a8a8a" stroke-width="1"/>
<path d="M868.5,879.5 L872.5,873.5 L877.5,867.5 M869,881 L874,880" fill="none" stroke="#777" stroke-width="1.2"/>
<line x1="879" y1="947" x2="884.5" y2="947" stroke="#444" stroke-width="0.8"/>
<rect x="998.8" y="906.6" width="27.7" height="37" rx="6" fill="#fff" stroke="#a5a5a5" stroke-width="1"/>
<path d="M1016.3,925.1 H1029 M1029,919.5 V931" fill="none" stroke="#b5b5b5" stroke-width="1.4"/>
<ellipse cx="1004.6" cy="995.1" rx="12.4" ry="11.9" fill="#fff" stroke="#707070" stroke-width="1"/>
<rect x="1017.3" y="982.7" width="14" height="25" rx="2" fill="#fff" stroke="#707070" stroke-width="1"/>
<circle cx="1024" cy="995.2" r="1.6" fill="none" stroke="#999" stroke-width="0.8"/>
<line x1="1030.2" y1="988" x2="1030.2" y2="1002" stroke="#555" stroke-width="1.3"/>
<path d="M457,518.5 H439 M442,516.5 L439,518.5 L442,520.5" fill="none" stroke="#555" stroke-width="0.9"/>
<path d="M742.5,518.4 H730.6 M733.6,516.4 L730.6,518.4 L733.6,520.4" fill="none" stroke="#555" stroke-width="0.9"/>
<path d="M1016.7,1068 H1007.7 M1010.7,1066 L1007.7,1068 L1010.7,1070" fill="none" stroke="#555" stroke-width="0.9"/>
<path d="M951,1085 H960 M957,1083 L960,1085 L957,1087" fill="none" stroke="#555" stroke-width="0.9"/>
</g>
<g fill="none" stroke="#000" stroke-width="2.2" stroke-linejoin="miter" stroke-miterlimit="4">
<polygon points="1939.6,1267.8 1888.1,1318.2 1896,1354.4 1865.6,1333.4 1800,1363.3 1850.3,1311.9 1843,1276.7 1872.4,1297.2"/>
<line x1="1939.6" y1="1267.8" x2="1800" y2="1363.3"/>
<line x1="1843" y1="1276.7" x2="1896" y2="1354.4"/>
<polyline points="1943.3,1255.2 1960,1243.1 1952.2,1268.3 1969,1257.3" stroke-linejoin="round"/>
</g>
<!-- LABELS -->
<g class="labels">
<text class="lbl" x="611" y="440.5" transform="matrix(1,0,0,1.025,0,-11.013)">SUN</text>
<text class="lbl" x="611" y="465.5" transform="matrix(1,0,0,1.025,0,-11.638)">DECK</text>
<text class="lbl" x="391.8" y="674" transform="matrix(1,0,0,1.025,0,-16.850)">LIVING</text>
<text class="lbl" x="391.6" y="699.3" transform="matrix(1,0,0,1.025,0,-17.482)">3.6m x 5.5m</text>
<text class="lbl" x="734" y="596.5" transform="matrix(1,0,0,1.025,0,-14.913)">KITCHEN/</text>
<text class="lbl" x="734" y="621.5" transform="matrix(1,0,0,1.025,0,-15.538)">DINING</text>
<text class="lbl" x="734" y="646.4" transform="matrix(1,0,0,1.025,0,-16.160)">8.2m x 3.0m</text>
<text class="lbl" x="554.4" y="824.6" transform="matrix(1,0,0,1.025,0,-20.615)">ENTRY</text>
<text class="lbl" x="552.6" y="926" transform="matrix(1,0,0,1.025,0,-23.150)">PORCH</text>
<text class="lbl" x="704.2" y="927.1" transform="matrix(1,0,0,1.025,0,-23.178)">BEDROOM</text>
<text class="lbl" x="703.6" y="951.6" transform="matrix(1,0,0,1.025,0,-23.790)">3.0m x 3.0m</text>
<text class="lbl" x="951.4" y="788.2" transform="matrix(1,0,0,1.025,0,-19.705)">L'DRY</text>
<text class="lbl" x="951.4" y="813.4" transform="matrix(1,0,0,1.025,0,-20.335)">2.6m x 1.8m</text>
<text class="lbl" x="936" y="895.3" transform="matrix(1,0,0,1.025,0,-22.383)">BATH</text>
<text class="lbl" x="935.2" y="920.5" transform="matrix(1,0,0,1.025,0,-23.013)">2.6m x 1.8m</text>
<text class="lbl" x="1080.5" y="903.4" transform="matrix(1,0,0,1.025,0,-22.585)">RAMP</text>
<text class="lbl" x="970.3" y="1012" transform="matrix(1,0,0,1.025,0,-25.300)">WC</text>
<text class="lbl" x="380.5" y="1092" transform="matrix(1,0,0,1.025,0,-27.300)">CARPORT</text>
<text class="lbl" x="380.9" y="1117.6" transform="matrix(1,0,0,1.025,0,-27.940)">3.1m x 6.3m</text>
<text class="lbl" x="749.6" y="1148.4" transform="matrix(1,0,0,1.025,0,-28.710)">BEDROOM</text>
<text class="lbl" x="749.7" y="1173.6" transform="matrix(1,0,0,1.025,0,-29.340)">3.5m x 3.4m</text>
<text class="lbl" x="952.7" y="1148" transform="matrix(1,0,0,1.025,0,-28.700)">BEDROOM</text>
<text class="lbl" x="952.2" y="1173.4" transform="matrix(1,0,0,1.025,0,-29.335)">2.6m x 3.6m</text>
<text class="lbl" x="1406.7" y="706.9" transform="matrix(1,0,0,1.025,0,-17.672)">WORKSHOP</text>
<text class="lbl" x="1406.7" y="731.7" transform="matrix(1,0,0,1.025,0,-18.293)">4.2m x 5.5m</text>
<text class="lbl" x="1657.2" y="709.6" transform="matrix(1,0,0,1.025,0,-17.740)">UNDER HOUSE</text>
<text class="lbl" x="1656.8" y="735" transform="matrix(1,0,0,1.025,0,-18.375)">STORAGE</text>
</g>

<!-- FOOTER -->
<g font-family="Liberation Sans" fill="#000" stroke="#000" stroke-width="0.3">
<text x="30" y="1353.7" font-size="29.75">All measurements are internal and approximate.</text>
<text x="30" y="1389" font-size="29.75">This plan is a sketch for illustration, not valuation.</text>
<text x="30" y="1424" font-size="29.75">Produced by Open2view.com for Roberts Real Estate</text>
<text x="877.5" y="1364.2" font-size="45" textLength="536.5" lengthAdjust="spacingAndGlyphs">Approx. floor area : 116 sqm</text>
</g>

</svg>
</body></html>
